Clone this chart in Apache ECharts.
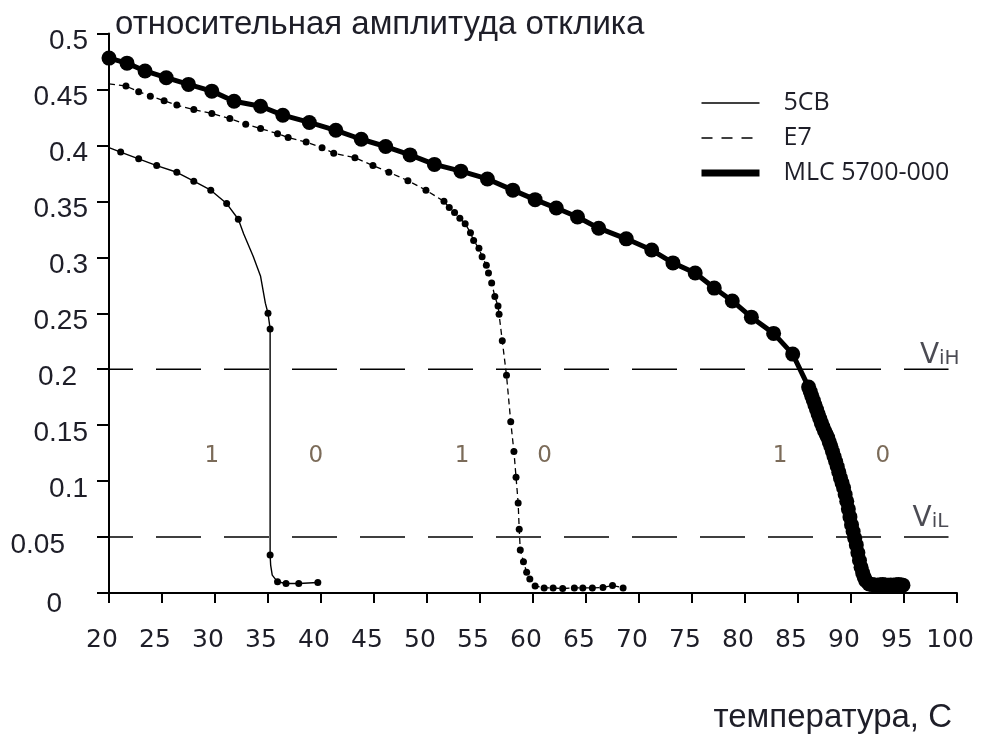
<!DOCTYPE html>
<html>
<head>
<meta charset="utf-8">
<script src="https://cdn.jsdelivr.net/npm/echarts@6/dist/echarts.min.js"></script>
<style>
  html, body { margin: 0; padding: 0; background: #fff; }
  #chart { width: 981px; height: 734px; }
</style>
</head>
<body>
<div id="chart"></div>
<script>
// Axis ranges (temperature, °C / relative response amplitude)
const tempAxis = [20, 100, 5];
const ampAxis = [0, 0.5, 0.05];

// Logic thresholds
const levelHigh = 0.2;
const levelLow = 0.05;
const levelEnd = 99.2;

// 5CB: [T, amplitude, measured point?]
const cb5 = [
  [20, 0.398, 0], [21.1, 0.394, 1], [22.8, 0.388, 1], [24.5, 0.382, 1], [26.4, 0.376, 1],
  [28.0, 0.368, 1], [29.6, 0.360, 1], [31.1, 0.348, 1], [32.2, 0.334, 1], [32.7, 0.321, 0],
  [33.6, 0.301, 0], [34.3, 0.283, 0], [34.75, 0.259, 0], [35.0, 0.250, 1], [35.2, 0.236, 1],
  [35.2, 0.034, 1], [35.25, 0.025, 0], [35.4, 0.016, 0], [35.9, 0.010, 1], [36.7, 0.0085, 1],
  [37.9, 0.0085, 1], [39.7, 0.0094, 1]
];

// E7: [T, amplitude, measured point?]
const e7 = [
  [20, 0.455, 0], [21.6, 0.453, 1], [22.8, 0.448, 1], [23.9, 0.444, 1], [25.2, 0.440, 1],
  [26.4, 0.436, 1], [28.0, 0.432, 1], [29.7, 0.4285, 1], [31.4, 0.424, 1], [32.9, 0.419, 1],
  [34.3, 0.415, 1], [35.9, 0.4105, 1], [36.9, 0.407, 1], [38.6, 0.403, 1], [40.1, 0.398, 1],
  [41.2, 0.393, 1], [43.2, 0.389, 1], [44.9, 0.382, 1], [46.4, 0.376, 1], [48.2, 0.3685, 1],
  [49.9, 0.360, 1], [51.6, 0.350, 1], [52.1, 0.3445, 1], [52.6, 0.340, 1], [53.1, 0.335, 1],
  [53.6, 0.330, 1], [54.1, 0.322, 1], [54.4, 0.315, 1], [54.9, 0.308, 1], [55.2, 0.3005, 1],
  [55.6, 0.293, 1], [55.8, 0.286, 1], [56.1, 0.277, 1], [56.4, 0.265, 1], [56.7, 0.2565, 1],
  [56.8, 0.249, 1], [57.1, 0.2255, 1], [57.5, 0.1945, 1], [57.9, 0.153, 1], [58.2, 0.1265, 1],
  [58.4, 0.1035, 1], [58.6, 0.0805, 1], [58.7, 0.057, 1], [58.8, 0.0385, 1], [59.1, 0.028, 1],
  [59.4, 0.0185, 1], [59.7, 0.0125, 1], [60.2, 0.0063, 1], [61.05, 0.0045, 1], [61.9, 0.0045, 1],
  [62.8, 0.004, 1], [63.9, 0.0045, 1], [64.7, 0.0045, 1], [65.6, 0.0045, 1], [66.6, 0.005, 1],
  [67.5, 0.0068, 1], [68.5, 0.0045, 1]
];

// MLC 5700-000: [T, amplitude]
const mlc = [
  [20, 0.478], [21.7, 0.4735], [23.4, 0.4665], [25.4, 0.4605], [27.5, 0.4545], [29.7, 0.4485],
  [31.8, 0.4395], [34.3, 0.435], [36.4, 0.427], [38.9, 0.4205], [41.4, 0.4135], [43.8, 0.4055],
  [46.1, 0.399], [48.4, 0.3915], [50.7, 0.383], [53.2, 0.377], [55.7, 0.370], [58.1, 0.360],
  [60.2, 0.3515], [62.2, 0.344], [64.2, 0.336], [66.2, 0.326], [68.8, 0.3165], [71.2, 0.3065],
  [73.2, 0.295], [75.3, 0.286], [77.1, 0.2725], [78.8, 0.261], [80.6, 0.2465], [82.7, 0.232],
  [84.5, 0.2135], [86.0, 0.184], [86.15, 0.180], [86.3, 0.176], [86.45, 0.172], [86.6, 0.168],
  [86.75, 0.164], [86.9, 0.160], [87.05, 0.156], [87.2, 0.152], [87.35, 0.1485], [87.5, 0.145],
  [87.65, 0.142], [87.8, 0.139], [87.95, 0.135], [88.1, 0.131], [88.25, 0.1265], [88.4, 0.122],
  [88.55, 0.1175], [88.7, 0.113], [88.85, 0.108], [89.0, 0.103], [89.15, 0.0985], [89.3, 0.094],
  [89.45, 0.088], [89.6, 0.082], [89.75, 0.075], [89.9, 0.068], [90.05, 0.061], [90.2, 0.055],
  [90.35, 0.049], [90.5, 0.043], [90.65, 0.036], [90.8, 0.029], [90.95, 0.023], [91.1, 0.018],
  [91.25, 0.014], [91.4, 0.011], [91.7, 0.008], [92.0, 0.0075], [92.25, 0.0072], [92.5, 0.007],
  [92.75, 0.0074], [93.0, 0.0075], [93.25, 0.0071], [93.5, 0.007], [93.75, 0.0072], [94.0, 0.007],
  [94.25, 0.0073], [94.5, 0.0075], [94.75, 0.0072], [94.9, 0.007]
];

// Logic-state marks on either side of each transition: [T, amplitude, text]
const stateMarks = [
  [29.7, 0.122, '1'], [39.5, 0.122, '0'],
  [53.3, 0.122, '1'], [61.1, 0.122, '0'],
  [83.3, 0.122, '1'], [93.0, 0.122, '0']
];

// Threshold names: [T, amplitude, main, subscript]
const levelNames = [
  [96.5, 0.212, 'V', 'iH'],
  [95.8, 0.066, 'V', 'iL']
];

const INK = '#000';
const TEXT = '#1e1e28';

const xy = arr => arr.map(p => [p[0], p[1]]);
const dots = arr => arr.filter(p => p[2]).map(p => [p[0], p[1]]);

const chart = echarts.init(document.getElementById('chart'), null, { renderer: 'canvas' });

chart.setOption({
  animation: false,
  backgroundColor: '#fff',
  grid: { left: 109, right: 24, top: 33.5, bottom: 140.5, containLabel: false },
  legend: {
    orient: 'vertical',
    left: 693,
    top: 84,
    itemWidth: 58,
    itemHeight: 14,
    itemGap: 7,
    selectedMode: false,
    itemStyle: { opacity: 0 },
    textStyle: { fontFamily: 'Open Sans', fontSize: 25, color: TEXT, padding: [0, 0, 0, 19], lineHeight: 28 },
    data: [
      { name: '5CB', lineStyle: { width: 1.5, color: INK } },
      { name: 'E7', lineStyle: { width: 1.5, color: INK, type: [11, 9] } },
      { name: 'MLC 5700-000', lineStyle: { width: 7, color: INK } }
    ]
  },
  xAxis: {
    type: 'value',
    min: tempAxis[0], max: tempAxis[1], interval: tempAxis[2],
    name: 'температура, С',
    nameLocation: 'end',
    nameGap: -5,
    nameTextStyle: {
      fontFamily: 'Liberation Sans', fontSize: 33, color: TEXT,
      align: 'right', verticalAlign: 'top', padding: [108, 0, 0, 0]
    },
    axisLine: { show: true, onZero: false, lineStyle: { color: INK, width: 2 } },
    axisTick: { show: true, length: 10, lineStyle: { color: INK, width: 2 } },
    axisLabel: {
      margin: 35, fontFamily: 'DejaVu Sans', fontSize: 25, color: TEXT,
      padding: [0, 14, 0, 0]
    },
    splitLine: { show: false }
  },
  yAxis: {
    type: 'value',
    min: ampAxis[0], max: ampAxis[1], interval: ampAxis[2],
    name: 'относительная амплитуда отклика',
    nameLocation: 'end',
    nameGap: 9,
    nameTextStyle: {
      fontFamily: 'Liberation Sans', fontSize: 33, color: TEXT,
      align: 'left', verticalAlign: 'middle', padding: [0, 0, 0, 6]
    },
    axisLine: { show: true, lineStyle: { color: INK, width: 2 } },
    axisTick: { show: true, length: 12, lineStyle: { color: INK, width: 2 } },
    axisLabel: {
      margin: 21, fontFamily: 'Liberation Sans', fontSize: 28, color: TEXT,
      padding: [16, 0, 0, 0],
      formatter: v => {
        const s = String(+v.toFixed(2));
        if (s === '0') return '{z|0}';
        if (s === '0.05') return '{l|0.05}';
        if (s === '0.2') return '{m|0.2}';
        return s;
      },
      rich: {
        z: { fontFamily: 'Liberation Sans', fontSize: 28, color: TEXT, padding: [6, 26, 0, 0] },
        l: { fontFamily: 'Liberation Sans', fontSize: 28, color: TEXT, padding: [0, 23, 0, 0] },
        m: { fontFamily: 'Liberation Sans', fontSize: 28, color: TEXT, padding: [0, 11, 0, 0] }
      }
    },
    splitLine: { show: false }
  },
  series: [
    {
      name: 'ViH', type: 'line', silent: true, symbol: 'none', z: 1,
      data: [[tempAxis[0], levelHigh], [levelEnd, levelHigh]],
      lineStyle: { color: INK, width: 1.6, type: [45, 23], dashOffset: 21 }
    },
    {
      name: 'ViL', type: 'line', silent: true, symbol: 'none', z: 1,
      data: [[tempAxis[0], levelLow], [levelEnd, levelLow]],
      lineStyle: { color: INK, width: 1.6, type: [45, 23], dashOffset: 21 }
    },
    {
      name: '5CB', type: 'line', symbol: 'none', z: 3,
      data: xy(cb5),
      lineStyle: { color: INK, width: 1.4 }
    },
    {
      name: '5CB points', type: 'scatter', symbol: 'circle', symbolSize: 7, z: 4,
      data: dots(cb5),
      itemStyle: { color: INK, opacity: 1 }
    },
    {
      name: 'E7', type: 'line', symbol: 'none', z: 3,
      data: xy(e7),
      lineStyle: { color: INK, width: 1.3, type: [6, 4] }
    },
    {
      name: 'E7 points', type: 'scatter', symbol: 'circle', symbolSize: 7, z: 4,
      data: dots(e7),
      itemStyle: { color: INK, opacity: 1 }
    },
    {
      name: 'MLC 5700-000', type: 'line', symbol: 'none', z: 3,
      data: mlc,
      lineStyle: { color: INK, width: 5 }
    },
    {
      name: 'MLC points', type: 'scatter', symbol: 'circle', symbolSize: 15, z: 4,
      data: mlc,
      itemStyle: { color: INK, opacity: 1 }
    },
    {
      name: 'states', type: 'scatter', silent: true, symbolSize: 1, z: 5,
      data: stateMarks,
      itemStyle: { color: 'rgba(0,0,0,0)' },
      label: {
        show: true, position: 'inside',
        formatter: p => p.data[2],
        fontFamily: 'DejaVu Sans', fontSize: 23, color: '#5a4630'
      }
    },
    {
      name: 'levels', type: 'scatter', silent: true, symbolSize: 1, z: 5,
      data: levelNames,
      itemStyle: { color: 'rgba(0,0,0,0)' },
      label: {
        show: true, position: 'inside', align: 'left', verticalAlign: 'middle',
        formatter: p => '{v|' + p.data[2] + '}{s|' + p.data[3] + '}',
        rich: {
          v: { fontFamily: 'DejaVu Sans', fontSize: 28, color: TEXT, verticalAlign: 'bottom' },
          s: { fontFamily: 'DejaVu Sans', fontSize: 20, color: TEXT, verticalAlign: 'bottom', padding: [0, 0, 1, 0] }
        }
      }
    }
  ]
});
</script>
</body>
</html>
